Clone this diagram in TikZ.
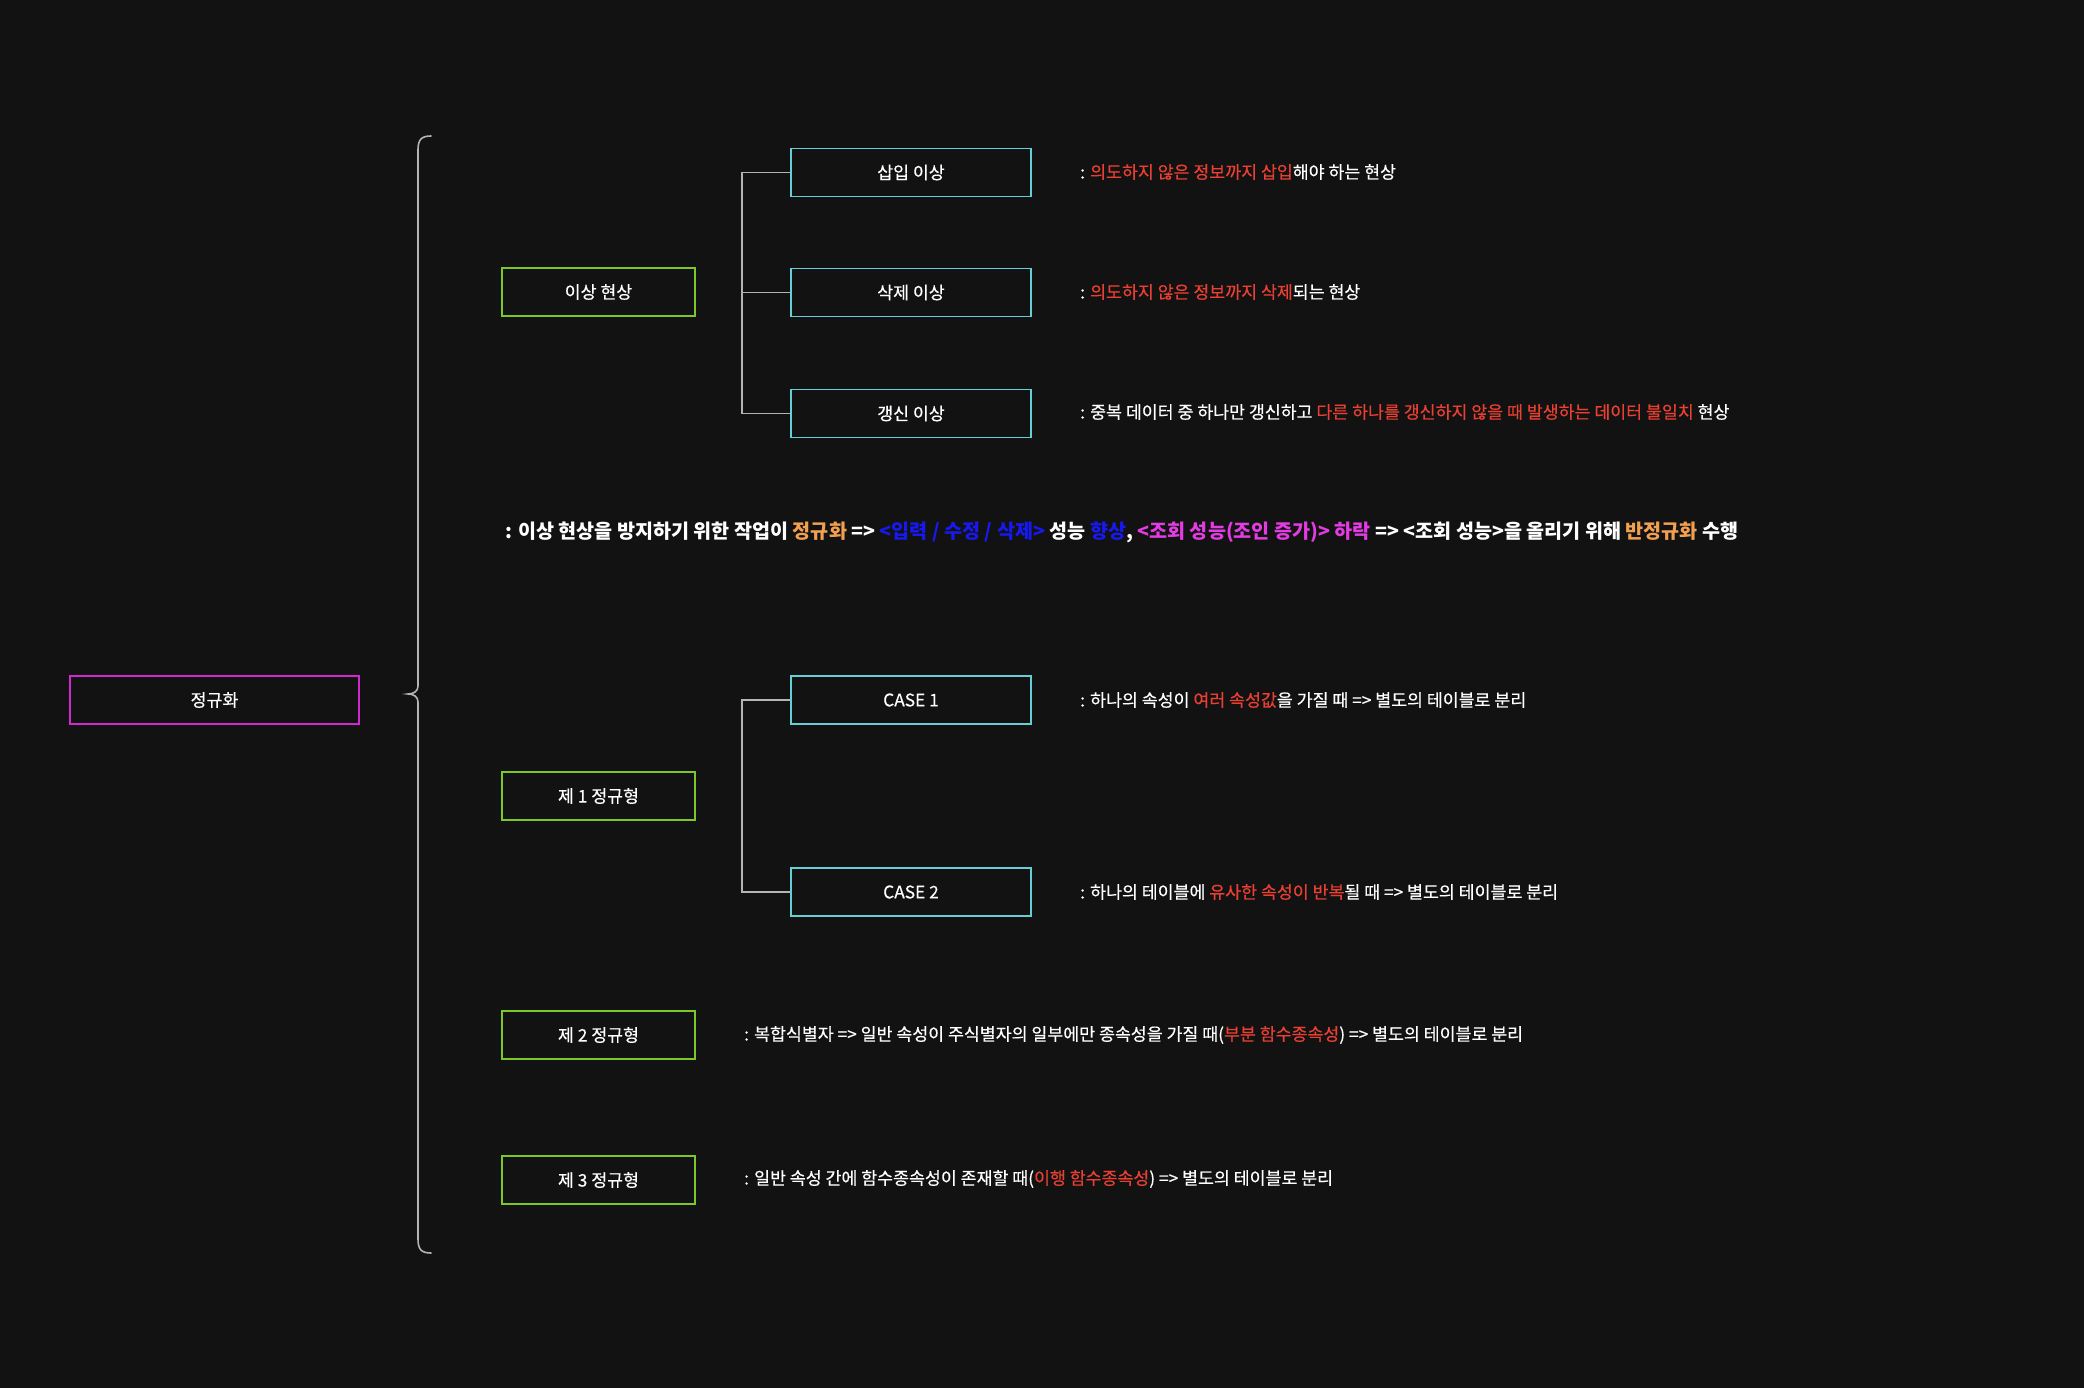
\documentclass[tikz,border=0pt]{standalone}
\usepackage{fontspec}
\setmainfont{Noto Sans CJK KR}
\newfontfamily\lblfont[FakeBold=0.4]{Noto Sans CJK KR}
\definecolor{bg}{RGB}{18,18,18}
\definecolor{rd}{RGB}{232,64,50}
\definecolor{org}{RGB}{240,160,80}
\definecolor{blu}{RGB}{24,24,240}
\definecolor{mag}{RGB}{226,60,226}
\definecolor{magbox}{RGB}{206,40,206}
\definecolor{grn}{RGB}{122,200,42}
\definecolor{cyn}{RGB}{104,206,214}
\definecolor{lin}{RGB}{180,180,180}
\tikzset{
  box/.style={draw, line width=1.5pt, minimum height=48pt, text=white, inner sep=0pt, font=\lblfont\fontsize{17.3}{20}\selectfont},
  rootbox/.style={box, draw=magbox, minimum width=289pt},
  grnbox/.style={box, draw=grn, minimum width=193pt},
  cynbox/.style={box, draw=cyn, minimum width=240pt},
  lbl/.style={anchor=west, inner sep=0pt, text=white, font=\lblfont\fontsize{17.3}{20}\selectfont},
  mainlbl/.style={anchor=west, inner sep=0pt, text=white, font=\fontsize{19.6}{23}\selectfont\bfseries},
  conn/.style={draw=lin, line width=1.6pt},
  bracestyle/.style={draw=lin, line width=1.6pt, line cap=round}
}
\begin{document}
\begin{tikzpicture}[x=1pt,y=-1pt]
\fill[bg] (0,0) rectangle (2084,1388);
\useasboundingbox (0,0) rectangle (2084,1388);

% root
\node[rootbox] (root) at (214.5,700) {정규화};

% brace
\coordinate (btip) at (408,694);
\draw[bracestyle] (431,136) .. controls (421,136) and (418,140) .. (418,150) -- (418,686)
  .. controls (418,691) and (414,694) .. (btip)
  .. controls (414,694) and (418,697) .. (418,702) -- (418,1239)
  .. controls (418,1249) and (421,1253) .. (431,1253);

% anomaly
\node[grnbox] (anom) at (598.5,292) {이상 현상};
\node[cynbox] (ins) at (911,172.5) {삽입 이상};
\node[cynbox] (del) at (911,292.5) {삭제 이상};
\node[cynbox] (upd) at (911,413.5) {갱신 이상};
\draw[conn] (ins.west) -- ++(-48,0) |- (upd.west);
\draw[conn] (del.west) -- ++(-48,0);

\node[lbl] (insl) at (1080,172) {: \textcolor{rd}{의도하지 않은 정보까지 삽입}해야 하는 현상};
\node[lbl] (dell) at (1080,292) {: \textcolor{rd}{의도하지 않은 정보까지 삭제}되는 현상};
\node[lbl] (updl) at (1080,412) {: 중복 데이터 중 하나만 갱신하고 \textcolor{rd}{다른 하나를 갱신하지 않을 때 발생하는 데이터 불일치} 현상};

% main line
\node[mainlbl] (mainl) at (505,532) {: 이상 현상을 방지하기 위한 작업이 \textcolor{org}{정규화} => \textcolor{blu}{<입력 / 수정 / 삭제>} 성능 \textcolor{blu}{향상}, \textcolor{mag}{<조회 성능(조인 증가)> 하락} => <조회 성능>을 올리기 위해 \textcolor{org}{반정규화} 수행};

% 1NF
\node[grnbox] (nf1) at (598.5,796) {제 1 정규형};
\node[cynbox] (c1) at (911,700) {CASE 1};
\node[cynbox] (c2) at (911,892) {CASE 2};
\draw[conn] (c1.west) -- ++(-48,0) |- (c2.west);
\node[lbl] (c1l) at (1080,700) {: 하나의 속성이 \textcolor{rd}{여러 속성값}을 가질 때 => 별도의 테이블로 분리};
\node[lbl] (c2l) at (1080,892) {: 하나의 테이블에 \textcolor{rd}{유사한 속성이 반복}될 때 => 별도의 테이블로 분리};

% 2NF, 3NF
\node[grnbox] (nf2) at (598.5,1035) {제 2 정규형};
\node[lbl] (nf2l) at (744,1035) {: 복합식별자 => 일반 속성이 주식별자의 일부에만 종속성을 가질 때(\textcolor{rd}{부분 함수종속성}) => 별도의 테이블로 분리};
\node[grnbox] (nf3) at (598.5,1180) {제 3 정규형};
\node[lbl] (nf3l) at (744,1179) {: 일반 속성 간에 함수종속성이 존재할 때(\textcolor{rd}{이행 함수종속성}) => 별도의 테이블로 분리};
\end{tikzpicture}
\end{document}
